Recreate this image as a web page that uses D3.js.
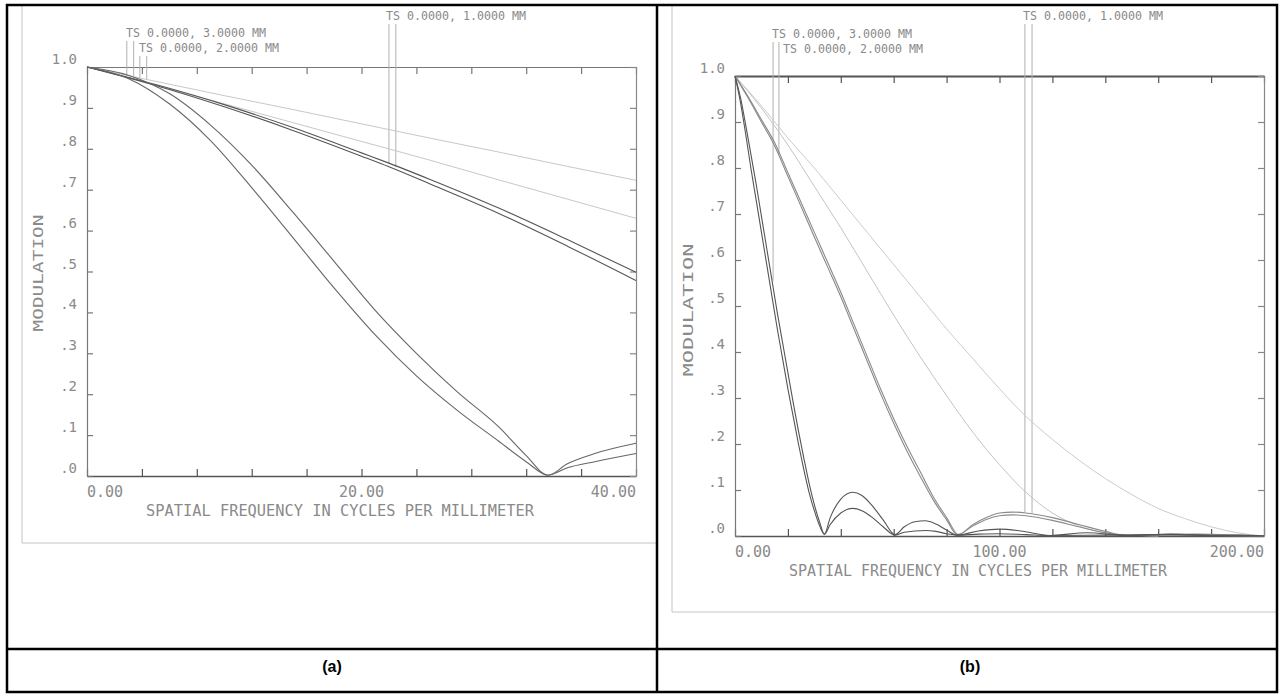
<!DOCTYPE html>
<html>
<head>
<meta charset="utf-8">
<script src="https://cdn.jsdelivr.net/npm/d3@7"></script>
<style>
  body { margin: 0; background: #fff; }
  text { font-family: "DejaVu Sans Mono", monospace; }
</style>
</head>
<body>
<div id="chart"></div>
<script>
// ---------------- values ----------------
const yTickValues = [0, .1, .2, .3, .4, .5, .6, .7, .8, .9, 1]
const yTickLabels = [".0", ".1", ".2", ".3", ".4", ".5", ".6", ".7", ".8", ".9", "1.0"]

const aXTicks = [0, 4, 8, 12, 16, 20, 24, 28, 32, 36, 40]
const aXLabelValues = [0, 20, 40]
const aXLabels = ["0.00", "20.00", "40.00"]

const bXTicks = [0, 20, 40, 60, 80, 100, 120, 140, 160, 180, 200]
const bXLabelValues = [0, 100, 200]
const bXLabels = ["0.00", "100.00", "200.00"]

const fieldLabels = ["TS 0.0000, 1.0000 MM", "TS 0.0000, 3.0000 MM", "TS 0.0000, 2.0000 MM"]
const xTitle = "SPATIAL FREQUENCY IN CYCLES PER MILLIMETER"
const yTitle = "MODULATION"
const captions = ["(a)", "(b)"]

// panel (a) curves: [frequency, modulation]
const aLight1 = [[0,1],[5,.965],[10,.93],[15,.896],[20,.861],[25,.826],[30,.792],[35,.757],[40,.723]]
const aLight2 = [[0,1],[5,.955],[10,.91],[15,.864],[20,.818],[25,.772],[30,.724],[35,.677],[40,.63]]
const aMidT = [[0,1],[5,.957],[10,.908],[15,.852],[20,.79],[22,.765],[25,.725],[30,.655],[35,.578],[40,.498]]
const aMidS = [[0,1],[5,.955],[10,.903],[15,.845],[20,.782],[22,.756],[25,.714],[30,.642],[35,.562],[40,.478]]
const aLowT = [[0,1],[3,.98],[6,.935],[9,.858],[12,.76],[15,.645],[18,.525],[21,.405],[24,.3],[27,.205],[30,.12],[32,.05],[33.6,.002],[35,.03],[37,.055],[40,.08]]
const aLowS = [[0,1],[3,.972],[6,.91],[9,.82],[12,.705],[15,.583],[18,.46],[21,.345],[24,.245],[27,.16],[30,.085],[32,.035],[33.6,.002],[35,.02],[37,.035],[40,.055]]

// panel (b) curves
const bLight1 = [[0,1],[10,.935],[20,.865],[30,.8],[40,.73],[50,.66],[60,.59],[70,.52],[80,.45],[90,.385],[100,.32],[110,.26],[120,.21],[130,.165],[140,.125],[150,.09],[160,.06],[170,.038],[180,.02],[190,.007],[200,0]]
const bLight2 = [[0,1],[10,.93],[20,.85],[30,.76],[40,.67],[50,.575],[60,.48],[70,.39],[80,.305],[90,.225],[100,.155],[110,.095],[120,.05],[130,.022],[140,.007],[150,.002],[160,0]]
const bMidT = [[0,1],[5,.955],[10,.905],[15,.855],[20,.79],[25,.725],[30,.66],[35,.595],[40,.53],[45,.46],[50,.39],[55,.32],[60,.255],[65,.195],[70,.14],[75,.085],[80,.04],[84.5,.003],[90,.025],[95,.04],[100,.05],[105,.052],[110,.05],[120,.04],[130,.025],[140,.01],[148,.001],[160,.003],[175,.004],[190,.002],[200,0]]
const bMidS = [[0,1],[5,.952],[10,.9],[15,.848],[20,.782],[25,.716],[30,.65],[35,.585],[40,.52],[45,.45],[50,.38],[55,.31],[60,.245],[65,.185],[70,.13],[75,.078],[80,.035],[84,.003],[90,.022],[95,.036],[100,.044],[105,.046],[110,.044],[120,.034],[130,.02],[140,.007],[147,.001],[160,.002],[175,.002],[200,0]]
const bLowT = [[0,1],[2,.955],[4,.895],[6,.83],[8,.765],[10,.695],[12,.625],[14,.555],[16,.485],[18,.42],[20,.355],[22,.29],[24,.228],[26,.17],[28,.115],[30,.068],[32,.03],[33.8,.004],[36,.04],[40,.08],[44.5,.095],[48,.088],[52,.065],[56,.035],[60.5,.003],[64,.02],[68,.031],[72,.033],[76,.026],[80,.013],[84,.002],[92,.011],[100,.015],[108,.011],[119,.001],[133,.007],[148,.001],[165,.004],[180,.001],[190,.002],[200,0]]
const bLowS = [[0,1],[2,.945],[4,.875],[6,.8],[8,.73],[10,.66],[12,.59],[14,.52],[16,.45],[18,.385],[20,.32],[22,.26],[24,.2],[26,.145],[28,.095],[30,.055],[32,.022],[33.8,.004],[36,.025],[40,.05],[44.5,.06],[48,.055],[52,.04],[56,.02],[60.5,.002],[64,.008],[68,.011],[72,.012],[76,.01],[80,.005],[84,.002],[92,.004],[100,.005],[110,.003],[119,.001],[140,.002],[165,.003],[185,.001],[200,0]]

// leader lines: [frequency, modulation where the line ends]
const aLeaders1 = [[22.0,.765],[22.5,.755]]
const aLeaders3 = [[2.9,.978],[3.4,.976]]
const aLeaders2 = [[3.85,.972],[4.35,.97]]
const bLeaders1 = [[109.6,.052],[112.3,.05]]
const bLeaders3 = [[14.4,.555],[16.6,.83]]

// ---------------- drawing ----------------
const W = 1283, H = 696
const svg = d3.select("#chart").append("svg")
  .attr("width", W).attr("height", H)

const textFill = "#8a8a8a"

function drawPanel(o) {
  const g = svg.append("g")
  const x = d3.scaleLinear().domain(o.xDomain).range([o.left, o.right])
  const y = d3.scaleLinear().domain([0, 1]).range([o.bottom, o.top])

  // light grey border of the pasted plot image
  g.append("path")
    .attr("d", `M${o.imgRight},${o.imgBottom}H${o.imgLeft}V${o.imgTop}`)
    .attr("fill", "none").attr("stroke", "#c4c4c4")

  // frame with inward ticks, all four sides
  const styleAxis = (sel, col, w) => {
    sel.selectAll("path.domain").attr("stroke", col).attr("stroke-width", w)
    sel.selectAll(".tick line").attr("stroke", col).attr("stroke-width", 1.2)
    sel.selectAll(".tick text").remove()
  }
  g.append("g").attr("transform", `translate(0,${o.bottom})`)
    .call(d3.axisBottom(x).tickValues(o.xTicks).tickSize(-7).tickSizeOuter(0).tickFormat(""))
    .call(styleAxis, "#555", 1.6)
  g.append("g").attr("transform", `translate(0,${o.top})`)
    .call(d3.axisTop(x).tickValues(o.xTicks).tickSize(-7).tickSizeOuter(0).tickFormat(""))
    .call(styleAxis, o.topColor, o.topWidth)
  g.append("g").attr("transform", `translate(${o.left},0)`)
    .call(d3.axisLeft(y).tickValues(yTickValues).tickSize(-6).tickSizeOuter(0).tickFormat(""))
    .call(styleAxis, "#777", 1.2)
  g.append("g").attr("transform", `translate(${o.right},0)`)
    .call(d3.axisRight(y).tickValues(yTickValues).tickSize(-6).tickSizeOuter(0).tickFormat(""))
    .call(styleAxis, "#888", 1.2)
  g.selectAll(".domain").attr("fill", "none")

  // y tick labels
  g.selectAll("text.ylab").data(yTickValues).enter().append("text")
    .attr("class", "ylab")
    .attr("x", o.left - 10).attr("y", d => y(d) - 3)
    .attr("text-anchor", "end").attr("font-size", 14).attr("fill", textFill)
    .text((d, i) => yTickLabels[i])

  // x tick labels: first starts at its tick, last ends at its tick
  const anchors = ["start", "middle", "end"]
  g.selectAll("text.xlab").data(o.xLabelValues).enter().append("text")
    .attr("class", "xlab")
    .attr("x", d => x(d)).attr("y", o.bottom + 21)
    .attr("text-anchor", (d, i) => anchors[i])
    .attr("font-size", 15).attr("fill", textFill)
    .text((d, i) => o.xLabels[i])

  g.append("text")
    .attr("x", o.titleX).attr("y", o.bottom + 40)
    .attr("text-anchor", "middle").attr("font-size", 15).attr("fill", textFill)
    .attr("textLength", o.titleLen).attr("lengthAdjust", "spacingAndGlyphs")
    .text(xTitle)

  g.append("text")
    .attr("transform", `translate(${o.yTitleX},${o.yTitleY}) rotate(-90)`)
    .attr("text-anchor", "middle").attr("font-size", 14).attr("fill", textFill)
    .attr("textLength", o.yTitleLen).attr("lengthAdjust", "spacingAndGlyphs")
    .text(yTitle)

  // field labels and their leader lines
  o.fields.forEach(f => {
    g.append("text")
      .attr("x", f.x).attr("y", f.y)
      .attr("font-size", 13).attr("fill", textFill)
      .attr("textLength", 140).attr("lengthAdjust", "spacingAndGlyphs")
      .text(f.label)
    g.selectAll(null).data(f.leaders).enter().append("line")
      .attr("x1", d => x(d[0])).attr("x2", d => x(d[0]))
      .attr("y1", f.y + 4).attr("y2", d => y(d[1]))
      .attr("stroke", "#b0b0b0").attr("stroke-width", 1)
  })

  // curves
  const line = d3.line().x(d => x(d[0])).y(d => y(d[1])).curve(d3.curveMonotoneX)
  o.curves.forEach(c => {
    g.append("path").datum(c.data)
      .attr("d", line)
      .attr("fill", "none").attr("stroke", c.color).attr("stroke-width", c.width)
  })
}

drawPanel({
  xDomain: [0, 40], left: 87, right: 636, top: 67, bottom: 476,
  xTicks: aXTicks, xLabelValues: aXLabelValues, xLabels: aXLabels,
  topColor: "#777", topWidth: 1.2,
  imgLeft: 22, imgTop: 6, imgRight: 657, imgBottom: 543,
  titleX: 340, titleLen: 388,
  yTitleX: 43, yTitleY: 273, yTitleLen: 117,
  fields: [
    {label: fieldLabels[0], x: 386, y: 20, leaders: aLeaders1},
    {label: fieldLabels[1], x: 126, y: 37, leaders: aLeaders3},
    {label: fieldLabels[2], x: 139, y: 52, leaders: aLeaders2}
  ],
  curves: [
    {data: aLight1, color: "#c8c8c8", width: 1},
    {data: aLight2, color: "#c8c8c8", width: 1},
    {data: aMidT, color: "#555", width: 1.1},
    {data: aMidS, color: "#555", width: 1.1},
    {data: aLowT, color: "#666", width: 1.1},
    {data: aLowS, color: "#666", width: 1.1}
  ]
})

drawPanel({
  xDomain: [0, 200], left: 735, right: 1264, top: 76, bottom: 536,
  xTicks: bXTicks, xLabelValues: bXLabelValues, xLabels: bXLabels,
  topColor: "#555", topWidth: 1.8,
  imgLeft: 672, imgTop: 6, imgRight: 1277, imgBottom: 612,
  titleX: 978, titleLen: 378,
  yTitleX: 693, yTitleY: 310, yTitleLen: 133,
  fields: [
    {label: fieldLabels[0], x: 1023, y: 20, leaders: bLeaders1},
    {label: fieldLabels[1], x: 772, y: 38, leaders: bLeaders3},
    {label: fieldLabels[2], x: 783, y: 53, leaders: []}
  ],
  curves: [
    {data: bLight1, color: "#cccccc", width: 1},
    {data: bLight2, color: "#c4c4c4", width: 1},
    {data: bMidT, color: "#8a8a8a", width: 1.1},
    {data: bMidS, color: "#8a8a8a", width: 1.1},
    {data: bLowT, color: "#555", width: 1.1},
    {data: bLowS, color: "#555", width: 1.1}
  ]
})

// table borders and captions
const table = svg.append("g").attr("stroke", "#000").attr("stroke-width", 2.5).attr("fill", "none")
table.append("rect").attr("x", 7).attr("y", 5).attr("width", 1270).attr("height", 687)
table.append("line").attr("x1", 657).attr("x2", 657).attr("y1", 5).attr("y2", 692)
table.append("line").attr("x1", 7).attr("x2", 1277).attr("y1", 649).attr("y2", 649)

svg.selectAll("text.cap").data(captions).enter().append("text")
  .attr("class", "cap")
  .attr("x", (d, i) => i === 0 ? 332 : 970).attr("y", 672)
  .attr("text-anchor", "middle")
  .style("font-family", "'Liberation Sans', Arial, sans-serif")
  .attr("font-weight", "bold").attr("font-size", 16)
  .text(d => d)
</script>
</body>
</html>
